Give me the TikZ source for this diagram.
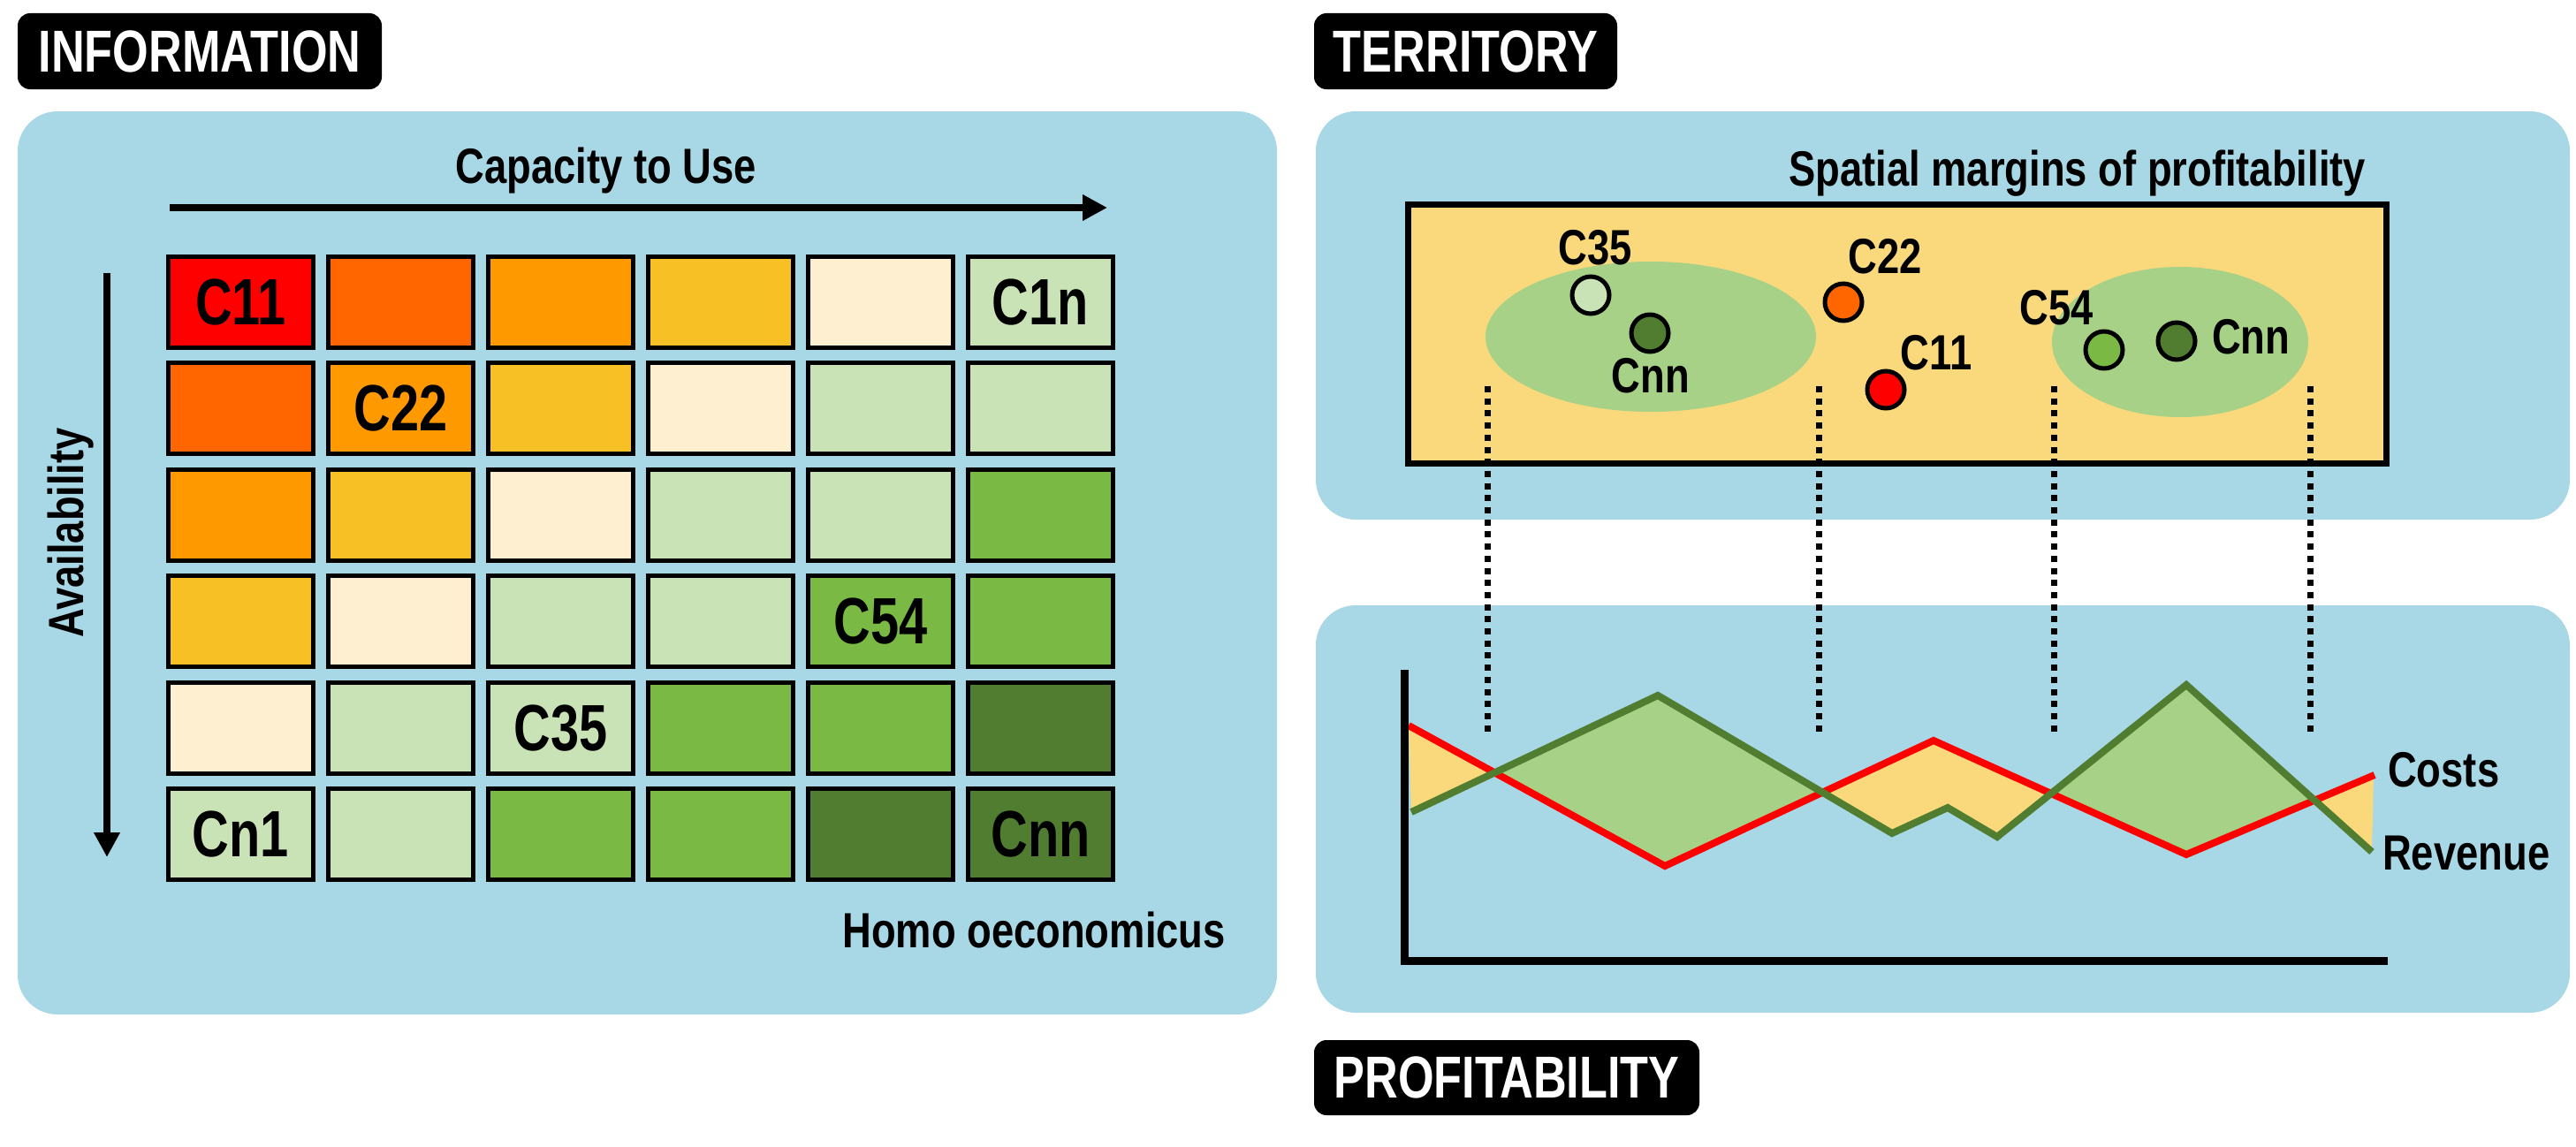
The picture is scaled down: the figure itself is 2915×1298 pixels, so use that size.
\documentclass[tikz,border=0pt]{standalone}
\usepackage{fontspec}
\setmainfont{Liberation Sans}[FakeStretch=0.78]
\newfontfamily\lblfont{Liberation Sans}[FakeStretch=0.81]
\usetikzlibrary{arrows.meta}
\definecolor{bgblue}{HTML}{A8D8E6}
\definecolor{cR}{HTML}{FF0000}
\definecolor{cOR}{HTML}{FF6600}
\definecolor{cOr}{HTML}{FF9900}
\definecolor{cGd}{HTML}{F7C125}
\definecolor{cCr}{HTML}{FDEFCF}
\definecolor{cLG}{HTML}{C9E3B6}
\definecolor{cMG}{HTML}{7AB943}
\definecolor{cDG}{HTML}{507D2F}
\definecolor{terryellow}{HTML}{F9D97C}
\definecolor{ellgreen}{HTML}{A6D186}
\begin{document}
\begin{tikzpicture}[x=1pt,y=-1pt,
  panel/.style={fill=bgblue, rounded corners=45pt, inner sep=0},
  titlebox/.style={fill=black, text=white, rounded corners=14pt, inner sep=0, font=\bfseries\fontsize{67}{70}\selectfont},
  cell/.style={draw=black, line width=5pt, minimum width=164pt, minimum height=103pt, inner sep=0},
  celltext/.style={inner sep=0, font=\bfseries\fontsize{74}{78}\selectfont},
  lbl/.style={inner sep=0, font=\lblfont\bfseries\fontsize{56}{60}\selectfont},
  dot/.style={circle, draw=black, line width=5pt, minimum size=42pt, inner sep=0},
  dotline/.style={line width=7pt, dash pattern=on 7pt off 6.7pt},
  bigarrow/.style={line width=8pt, -{Triangle[length=28pt,width=28pt]}},
  costline/.style={draw=cR, line width=8pt},
  revline/.style={draw=cDG, line width=8pt}]
\useasboundingbox (0,0) rectangle (2915,1298);

% ---------- panels ----------
\node[panel, minimum width=1425pt, minimum height=1022pt] (infopanel) at (732.5,637) {};
\node[panel, minimum width=1419pt, minimum height=462pt] (terrpanel) at (2198.5,357) {};
\node[panel, minimum width=1419pt, minimum height=461pt] (profpanel) at (2198.5,915.5) {};

% ---------- title boxes ----------
\node[titlebox, minimum width=412pt, minimum height=86pt] (tinfo) at (226,58) {INFORMATION};
\node[titlebox, minimum width=343pt, minimum height=86pt] (tterr) at (1658.5,58) {TERRITORY};
\node[titlebox, minimum width=436pt, minimum height=85pt] (tprof) at (1705,1219.5) {PROFITABILITY};

% ---------- information matrix ----------
\node[lbl, anchor=base] (capuse) at (686,207) {Capacity to Use};
\coordinate (capS) at (192,235);
\coordinate (capE) at (1253,235);
\draw[bigarrow] (capS) -- (capE);

\node[lbl, anchor=base, rotate=90] (avail) at (94,603) {Availability};
\coordinate (avS) at (121,309);
\coordinate (avE) at (121,970);
\draw[bigarrow] (avS) -- (avE);

\foreach \cols [count=\r from 0] in {
  {cR,cOR,cOr,cGd,cCr,cLG},
  {cOR,cOr,cGd,cCr,cLG,cLG},
  {cOr,cGd,cCr,cLG,cLG,cMG},
  {cGd,cCr,cLG,cLG,cMG,cMG},
  {cCr,cLG,cLG,cMG,cMG,cDG},
  {cLG,cLG,cMG,cMG,cDG,cDG}} {
  \foreach \c [count=\k from 0] in \cols {
    \node[cell, fill=\c] (cell-\r-\k) at (272.5+181*\k, 342+120.4*\r) {};
  }
}
\node[celltext] (t11) at (cell-0-0) {C11};
\node[celltext] (t1n) at (cell-0-5) {C1n};
\node[celltext] (t22) at (cell-1-1) {C22};
\node[celltext] (t54) at (cell-3-4) {C54};
\node[celltext] (t35) at (cell-4-2) {C35};
\node[celltext] (tn1) at (cell-5-0) {Cn1};
\node[celltext] (tnn) at (cell-5-5) {Cnn};

\node[lbl, anchor=base east] (homo) at (1387,1072) {Homo oeconomicus};

% ---------- territory ----------
\node[lbl, anchor=base west] (spatial) at (2024,210) {Spatial margins of profitability};
\draw[fill=terryellow, line width=7pt] (1593.5,231.5) rectangle (2700.5,524.5);
\fill[ellgreen] (1868,381) ellipse [x radius=187pt, y radius=85pt];
\fill[ellgreen] (2467,387) ellipse [x radius=145pt, y radius=85pt];

\node[dot, fill=cLG] (d35) at (1800,334) {};
\node[dot, fill=cDG] (dnnL) at (1867,377) {};
\node[dot, fill=cOR] (d22) at (2086,342) {};
\node[dot, fill=cR] (d11) at (2134,441) {};
\node[dot, fill=cMG] (d54) at (2381,396) {};
\node[dot, fill=cDG] (dnnR) at (2463,386) {};

\node[lbl, anchor=base] (l35) at (1805,299) {C35};
\node[lbl, anchor=base] (lnnL) at (1868,444) {Cnn};
\node[lbl, anchor=base] (l22) at (2133,309) {C22};
\node[lbl, anchor=base] (l11) at (2191,418) {C11};
\node[lbl, anchor=base] (l54) at (2327,367) {C54};
\node[lbl, anchor=base west] (lnnR) at (2503,400) {Cnn};

% ---------- dotted links ----------
\foreach \xx [count=\i] in {1683,2058,2324,2614} {
  \coordinate (dT\i) at (\xx,437);
  \coordinate (dB\i) at (\xx,828);
  \draw[dotline] (dT\i) -- (dB\i);
}

% ---------- profitability graph ----------
\coordinate (R0) at (1594,821);
\coordinate (R1) at (1884,980);
\coordinate (R2) at (2188,838);
\coordinate (R3) at (2474,967);
\coordinate (R4) at (2687,877);
\coordinate (G0) at (1597,919);
\coordinate (G1) at (1876,787);
\coordinate (G2) at (2141,943);
\coordinate (G3) at (2204,914);
\coordinate (G4) at (2260,947);
\coordinate (G5) at (2474,775);
\coordinate (G6) at (2684,964);

\begin{scope}
  \clip (R0) -- (R1) -- (R2) -- (R3) -- (R4) -- (2690,700) -- (1590,700) -- cycle;
  \fill[ellgreen] (G0) -- (G1) -- (G2) -- (G3) -- (G4) -- (G5) -- (G6) -- (2690,1100) -- (1590,1100) -- cycle;
\end{scope}
\begin{scope}
  \clip (R0) -- (R1) -- (R2) -- (R3) -- (R4) -- (2690,1100) -- (1590,1100) -- cycle;
  \fill[terryellow] (G0) -- (G1) -- (G2) -- (G3) -- (G4) -- (G5) -- (G6) -- (2690,700) -- (1590,700) -- cycle;
\end{scope}

\draw[costline] (R0) -- (R1) -- (R2) -- (R3) -- (R4);
\draw[revline] (G0) -- (G1) -- (G2) -- (G3) -- (G4) -- (G5) -- (G6);

\coordinate (axTop) at (1589.5,758);
\coordinate (axOrig) at (1589.5,1087.5);
\coordinate (axRight) at (2702,1087.5);
\draw[line width=9pt] (axTop) -- (axOrig) -- (axRight);

\node[lbl, anchor=base west] (costs) at (2702,890) {Costs};
\node[lbl, anchor=base west] (revenue) at (2696,984) {Revenue};
\end{tikzpicture}
\end{document}
